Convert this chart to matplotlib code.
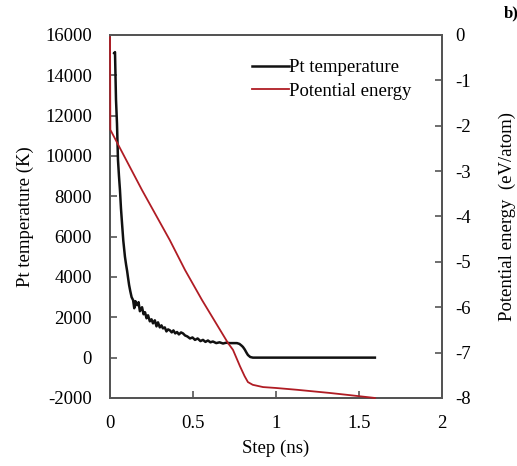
import matplotlib
matplotlib.use('Agg')
import matplotlib.pyplot as plt
from matplotlib.ticker import FuncFormatter

plt.rcParams['font.family'] = ['Liberation Serif', 'DejaVu Serif']
plt.rcParams['axes.unicode_minus'] = False

# Pt temperature (K) vs step (ns)
t_step = [0.025, 0.030, 0.036, 0.042, 0.048, 0.054, 0.060, 0.066, 0.072, 0.080, 0.090,
          0.097, 0.103, 0.108, 0.115, 0.122, 0.130, 0.139, 0.146, 0.153, 0.163, 0.172,
          0.180, 0.193, 0.202, 0.211, 0.220, 0.229, 0.240, 0.250, 0.259, 0.270, 0.280,
          0.289, 0.300, 0.310, 0.319, 0.330, 0.340, 0.350, 0.361, 0.372, 0.382, 0.393,
          0.404, 0.415, 0.428, 0.440, 0.452, 0.466, 0.482, 0.497, 0.512, 0.528, 0.545,
          0.560, 0.575, 0.590, 0.605, 0.620, 0.640, 0.660, 0.681, 0.700, 0.720, 0.745,
          0.765, 0.780, 0.792, 0.801, 0.812, 0.822, 0.831, 0.845, 0.861, 0.9, 1.0, 1.2,
          1.4, 1.596]
t_kelvin = [15100, 15150, 12800, 11600, 9800, 9000, 8300, 7400, 6700, 5800, 5000,
            4600, 4300, 4000, 3600, 3300, 3000, 2850, 2450, 2800, 2600, 2750,
            2300, 2500, 2150, 2250, 1950, 2100, 1800, 1900, 1700, 1850, 1550,
            1750, 1500, 1600, 1450, 1500, 1300, 1400, 1350, 1250, 1350, 1200,
            1270, 1150, 1250, 1200, 1100, 1050, 950, 1000, 880, 950, 820,
            880, 780, 850, 760, 800, 720, 760, 700, 740, 720, 720,
            720, 680, 600, 530, 400, 250, 130, 30, 0, 0, 0, 0,
            0, 0]

# Potential energy (eV/atom) vs step (ns)
e_step = [0.0, 0.002, 0.193, 0.36, 0.452, 0.554, 0.711, 0.741, 0.783, 0.811, 0.831,
          0.86, 0.922, 1.0, 1.127, 1.325, 1.45, 1.596]
e_energy = [-0.05, -2.09, -3.42, -4.52, -5.18, -5.84, -6.79, -6.94, -7.3, -7.52, -7.65,
            -7.71, -7.76, -7.78, -7.82, -7.89, -7.94, -8.0]

fig = plt.figure(figsize=(5.17, 4.66), dpi=100)
ax = fig.add_axes([0.2128, 0.146, 0.642, 0.779])
ax2 = ax.twinx()

l1, = ax.plot(t_step, t_kelvin, color='#111111', lw=1.8, label='Pt temperature')
l2, = ax2.plot(e_step, e_energy, color='#b01c24', lw=1.3, label='Potential energy',
               clip_on=False, zorder=3)

ax.set_xlim(0, 2)
ax.set_ylim(-2000, 16000)
ax.set_yticks(range(-2000, 16001, 2000))
ax.set_xticks([0, 0.5, 1, 1.5, 2])
ax.xaxis.set_major_formatter(FuncFormatter(lambda v, p: '%g' % v))
ax2.set_ylim(-8, 0)
ax2.set_yticks(range(-8, 1))

fs = 13.5
for a in (ax, ax2):
    for s in a.spines.values():
        s.set_color('#555555')
        s.set_linewidth(1.4)
    a.tick_params(direction='in', length=5, width=1.2, color='#555555', labelsize=fs)
ax.tick_params(axis='y', pad=13)
ax.tick_params(axis='x', pad=12)
ax2.tick_params(axis='y', pad=9.5)

ax.set_xlabel('Step (ns)', fontsize=fs, labelpad=6)
ax.set_ylabel('Pt temperature (K)', fontsize=fs, labelpad=8)
ax2.set_ylabel('Potential energy  (eV/atom)', fontsize=fs, labelpad=20)

ax.legend([l1, l2], ['Pt temperature', 'Potential energy'], loc='upper right',
          bbox_to_anchor=(0.96, 0.98), frameon=False, fontsize=fs,
          handlelength=2.0, handletextpad=0.0, labelspacing=0.35)

fig.text(0.974, 0.972, 'b)', fontsize=12, fontweight='bold', ha='left', va='center')

fig.savefig('out.png', dpi=100)
